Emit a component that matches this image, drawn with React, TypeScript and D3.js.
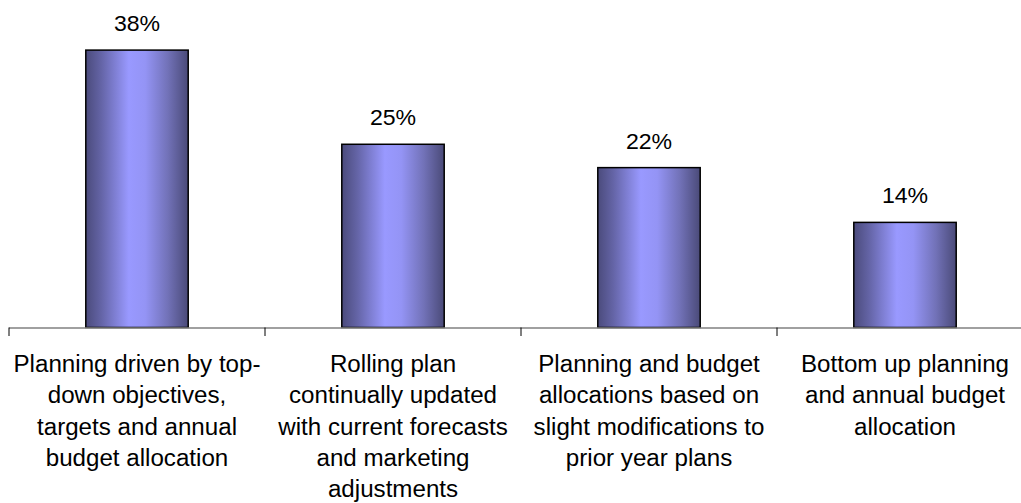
import React from "react";
import * as d3 from "d3";

const categories: string[] = ["c1", "c2", "c3", "c4"];
const categoryLines: string[][] = [
  ["Planning driven by top-", "down objectives,", "targets and annual", "budget allocation"],
  ["Rolling plan", "continually updated", "with current forecasts", "and marketing", "adjustments"],
  ["Planning and budget", "allocations based on", "slight modifications to", "prior year plans"],
  ["Bottom up planning", "and annual budget", "allocation"],
];
const values: number[] = [38.0, 25.1, 21.9, 14.4];
const valueLabels: string[] = ["38%", "25%", "22%", "14%"];

const W = 1021;
const H = 503;
const baseY = 327.5;

export default function App() {
  const x = d3
    .scaleBand<string>()
    .domain(categories)
    .range([9, 1033])
    .paddingInner(0.6)
    .paddingOuter(0.3);
  const y = d3.scaleLinear().domain([0, 40]).range([baseY, baseY - 292]);
  const step = x.step();
  const bounds = d3.range(categories.length + 1).map((i) => 9 + i * step);
  const font = "'Liberation Sans', Arial, sans-serif";

  return (
    <div style={{ position: "absolute", left: 0, top: 0 }}>
      <svg width={W} height={H} style={{ display: "block", background: "#fff" }}>
        <defs>
          <linearGradient id="barGrad" x1="0" y1="0" x2="1" y2="0">
            <stop offset="0%" stopColor="#4b4b7c" />
            <stop offset="15%" stopColor="#6464a6" />
            <stop offset="42%" stopColor="#9999ff" />
            <stop offset="58%" stopColor="#9494f5" />
            <stop offset="80%" stopColor="#7272b8" />
            <stop offset="100%" stopColor="#4a4a78" />
          </linearGradient>
        </defs>
        {categories.map((c, i) => {
          const cx = x(c)! + x.bandwidth() / 2;
          return (
            <g key={c}>
              <rect
                x={x(c)!}
                y={y(values[i])}
                width={x.bandwidth()}
                height={baseY - y(values[i])}
                fill="url(#barGrad)"
                stroke="#000"
                strokeWidth={1.5}
              />
              <g transform={`translate(${cx},${y(values[i]) - 19}) scale(1.05,1)`}>
                <text textAnchor="middle" fontFamily={font} fontSize={22} fill="#000">
                  {valueLabels[i]}
                </text>
              </g>
              {categoryLines[i].map((line, j) => (
                <g key={j} transform={`translate(${cx},${372 + j * 31.3}) scale(1.05,1)`}>
                  <text textAnchor="middle" fontFamily={font} fontSize={23} fill="#000">
                    {line}
                  </text>
                </g>
              ))}
            </g>
          );
        })}
        <line x1={9} x2={W} y1={baseY + 0.5} y2={baseY + 0.5} stroke="#808080" strokeWidth={1.5} />
        {bounds.map((b, i) => (
          <line key={i} x1={b} x2={b} y1={baseY} y2={baseY + 8.5} stroke="#000" strokeWidth={1} />
        ))}
      </svg>
    </div>
  );
}
